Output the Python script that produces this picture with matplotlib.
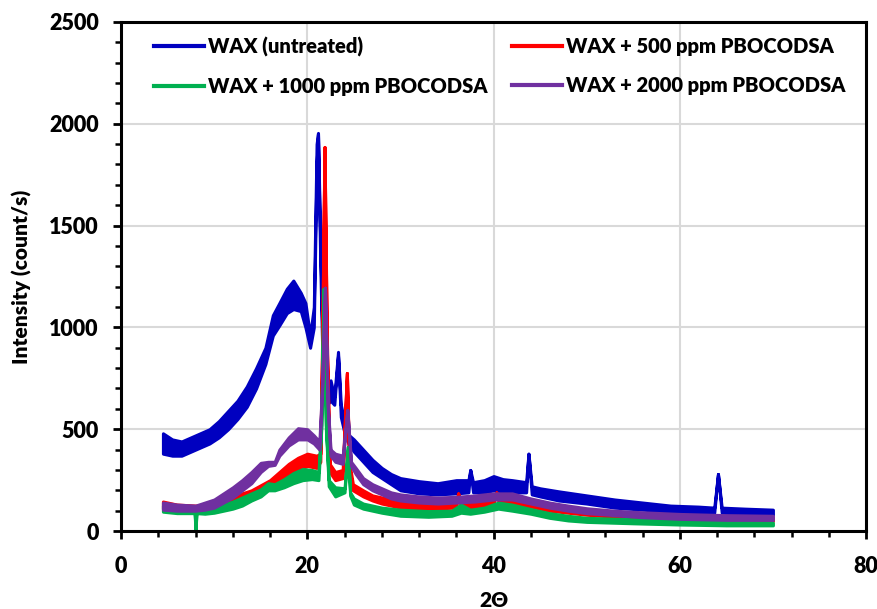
import matplotlib
matplotlib.use("Agg")
import matplotlib.pyplot as plt
from matplotlib.lines import Line2D
from matplotlib.ticker import MultipleLocator

plt.rcParams['font.family'] = ['Lato', 'DejaVu Sans']
plt.rcParams['font.weight'] = 'heavy'
W = 'heavy'

# noise band of each pattern: 2-theta, lower and upper edge
x_wax = [4.5, 5.5, 6.5, 7.5, 8.5, 9.5, 10.5, 11.5, 12.5, 13.5, 14.5, 15.5, 16.3, 17.0, 17.8,
         18.5, 19.3, 19.8, 20.3, 20.7, 21.0, 21.15, 21.4, 21.7, 22.1, 22.5, 22.9, 23.3, 23.6,
         24.0, 24.5, 25.0, 26.0, 27.0, 28.0, 29.0, 30.0, 32.0, 34.0, 36.0, 37.3, 37.5, 37.8,
         39.0, 40.0, 41.0, 42.0, 43.5, 43.75, 44.1, 45.0, 47.0, 50.0, 53.0, 56.0, 59.0, 62.0,
         63.7, 64.1, 64.5, 67.0, 70.0]
lo_wax = [380, 370, 370, 390, 410, 430, 460, 500, 550, 610, 700, 820, 960, 1010, 1070,
          1090, 1080, 1000, 900, 1000, 1800, 1950, 1300, 700, 620, 640, 620, 860, 560,
          480, 420, 390, 340, 290, 260, 230, 200, 185, 180, 185, 190, 300, 190,
          190, 200, 195, 190, 190, 380, 180, 170, 150, 135, 115, 105, 95, 90,
          90, 280, 90, 82, 80]
hi_wax = [480, 450, 440, 460, 480, 500, 540, 590, 640, 710, 800, 900, 1060, 1120, 1190,
          1230, 1170, 1120, 960, 1100, 1900, 1955, 1400, 800, 700, 740, 660, 880, 620,
          540, 470, 450, 400, 350, 310, 280, 260, 245, 235, 250, 250, 300, 240,
          250, 270, 255, 250, 240, 380, 220, 210, 195, 175, 155, 140, 125, 120,
          115, 280, 115, 110, 105]

x_500 = [4.5, 6, 8, 10, 11, 12, 13, 14, 15, 16, 17, 18, 19, 20, 21.0, 21.4, 21.6, 21.85, 22.1,
         22.4, 23.0, 23.8, 24.25, 24.5, 24.9, 26, 27, 28, 30, 33, 36, 36.2, 36.5, 38, 40, 40.3,
         40.6, 42, 44, 46, 48, 50, 53, 56, 60, 65, 70]
lo_500 = [110, 100, 95, 105, 115, 130, 145, 165, 185, 210, 240, 270, 300, 320, 310, 340, 900, 1886, 900,
          290, 250, 260, 776, 320, 200, 170, 150, 135, 115, 110, 115, 185, 115, 115, 130, 190,
          130, 135, 120, 100, 90, 80, 70, 62, 55, 50, 50]
hi_500 = [145, 130, 125, 135, 150, 165, 185, 200, 225, 250, 290, 330, 360, 380, 370, 380, 950, 1886, 950,
          330, 290, 300, 776, 340, 230, 200, 175, 165, 150, 140, 140, 185, 140, 145, 165, 190,
          165, 165, 150, 130, 115, 105, 95, 88, 80, 72, 70]

x_1000 = [4.5, 6, 7.9, 8.0, 8.1, 9, 10, 11, 12, 13, 14, 15, 15.8, 16.5, 17.5, 18.5, 19.5, 20.5,
          21.2, 21.5, 21.75, 22.0, 22.3, 23.0, 24.0, 24.35, 24.6, 25, 26, 27, 28, 30, 33, 35.5,
          36.5, 37.5, 39, 40.5, 42, 44, 46, 48, 50, 55, 60, 65, 70]
lo_1000 = [95, 88, 88, 0, 88, 85, 90, 100, 110, 125, 150, 170, 200, 200, 215, 235, 250, 255,
           250, 500, 1190, 500, 220, 170, 190, 413, 175, 130, 110, 100, 90, 75, 70, 75,
           90, 85, 95, 110, 100, 85, 65, 52, 45, 38, 32, 28, 28]
hi_1000 = [125, 115, 108, 0, 108, 112, 120, 130, 145, 165, 185, 205, 235, 230, 255, 285, 305, 300,
           290, 520, 1190, 520, 250, 215, 210, 413, 190, 160, 135, 125, 115, 105, 98, 100,
           130, 105, 115, 140, 130, 108, 88, 75, 65, 58, 52, 46, 42]

x_2000 = [4.5, 6, 8, 9, 10, 11, 12, 13, 14, 15, 15.8, 16.5, 17, 18, 19, 20, 20.7, 21.3, 21.6,
          21.9, 22.2, 22.5, 23.0, 23.8, 24.3, 24.7, 25.2, 26, 27, 28, 29, 30, 32, 34, 36, 38,
          40, 42, 44, 46, 48, 50, 53, 56, 60, 65, 70]
lo_2000 = [105, 100, 100, 105, 115, 140, 165, 200, 235, 290, 320, 325, 370, 420, 450, 450, 430, 400, 700,
           1195, 600, 370, 340, 330, 594, 320, 280, 230, 200, 180, 160, 150, 140, 135, 140, 145,
           155, 155, 135, 115, 100, 88, 78, 68, 60, 55, 55]
hi_2000 = [140, 130, 125, 140, 155, 185, 215, 250, 290, 335, 340, 340, 400, 460, 505, 500, 470, 440, 720,
           1195, 620, 400, 380, 370, 594, 340, 310, 260, 230, 210, 190, 180, 170, 165, 168, 175,
           185, 185, 160, 140, 125, 112, 100, 92, 84, 78, 75]

labels = ['WAX (untreated)', 'WAX + 500 ppm PBOCODSA',
          'WAX + 1000 ppm PBOCODSA', 'WAX + 2000 ppm PBOCODSA']
colors = ['#0000c0', '#ff0000', '#00b050', '#7030a0']
series = [(x_wax, lo_wax, hi_wax), (x_500, lo_500, hi_500),
          (x_1000, lo_1000, hi_1000), (x_2000, lo_2000, hi_2000)]

fig = plt.figure(figsize=(8.77, 6.09), dpi=100)
ax = fig.add_axes([0.138, 0.128, 0.8495, 0.836])

handles = []
for (xs, lo, hi), c, lab in zip(series, colors, labels):
    ax.fill_between(xs, lo, hi, facecolor=c, edgecolor=c, lw=2.2)
    handles.append(Line2D([], [], color=c, lw=3.0, label=lab))

ax.set_xlim(0, 80)
ax.set_ylim(0, 2500)
ax.xaxis.set_major_locator(MultipleLocator(20))
ax.xaxis.set_minor_locator(MultipleLocator(4))
ax.yaxis.set_major_locator(MultipleLocator(500))
ax.yaxis.set_minor_locator(MultipleLocator(100))
ax.grid(True, which='major', color='#d9d9d9', lw=1.5)
ax.set_axisbelow(True)
for s in ax.spines.values():
    s.set_linewidth(2.2)
ax.tick_params(which='major', direction='out', length=6, width=2)
ax.tick_params(axis='y', which='major', pad=10, labelsize=15.5)
ax.tick_params(axis='x', which='major', pad=12, labelsize=15.5)
ax.tick_params(which='minor', direction='out', length=4.5, width=1.8)
for t in ax.get_xticklabels() + ax.get_yticklabels():
    t.set_fontweight(W)

ax.set_xlabel('2\u0398', fontsize=15, fontweight=W, labelpad=10)
ax.set_ylabel('Intensity (count/s)', fontsize=15, fontweight=W, labelpad=12)

ax.legend([handles[0], handles[2], handles[1], handles[3]],
          [labels[0], labels[2], labels[1], labels[3]],
          ncol=2, loc='upper left', bbox_to_anchor=(0.02, 1.007), frameon=False,
          handlelength=2.5, columnspacing=1.2, labelspacing=1.0,
          handletextpad=0.2, prop={'weight': W, 'size': 14.5})

fig.savefig('out.png', dpi=100)
